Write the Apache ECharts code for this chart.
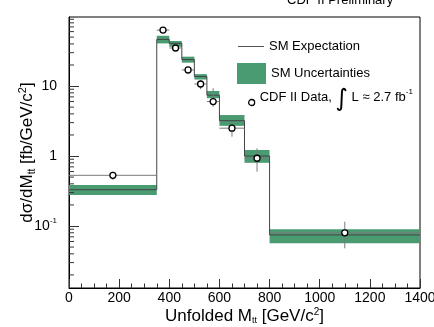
<!DOCTYPE html>
<html>
<head>
<meta charset="utf-8">
<script src="https://cdn.jsdelivr.net/npm/echarts@6/dist/echarts.min.js"></script>
<style>
  html, body { margin: 0; padding: 0; background: #fff; }
  #chart { width: 434px; height: 327px; }
</style>
</head>
<body>
<div id="chart"></div>
<script>
// Bin edges of the unfolded M_tt distribution [GeV/c^2]
const binEdges = [0, 350, 400, 450, 500, 550, 600, 700, 800, 1400];
// Standard Model expectation per bin [fb/GeV/c^2]
const smExpectation = [0.33, 46.4, 40.7, 23.9, 13.7, 7.4, 3.2, 1.0, 0.0745];
// Standard Model uncertainty band per bin
const smBandLow  = [0.277, 40.7, 36.4, 21.6, 12.4, 6.7, 2.7, 0.80, 0.0566];
const smBandHigh = [0.385, 52.3, 44.0, 26.3, 14.8, 8.5, 3.85, 1.22, 0.0897];
// Measured points: bin centres, cross section and error range
const dataMass    = [175, 375, 425, 475, 525, 575, 650, 750, 1100];
const dataXsec    = [0.53, 63, 35, 17, 10.7, 6.0, 2.5, 0.93, 0.080];
const dataErrLow  = [0.455, 59, 33, 14.7, 9.0, 5.06, 1.89, 0.597, 0.048];
const dataErrHigh = [0.597, 67, 37, 18.9, 12.2, 9.3, 2.93, 1.29, 0.115];
// Axis ticks
const xTickStep = 200;
const yMajorLabels = { '10': '10', '1': '1', '0.1': '{b|10}{s|-1}' };
const yMinorTicks = [0.02, 0.03, 0.04, 0.05, 0.06, 0.07, 0.08, 0.09,
                     0.2, 0.3, 0.4, 0.5, 0.6, 0.7, 0.8, 0.9,
                     2, 3, 4, 5, 6, 7, 8, 9,
                     20, 30, 40, 50, 60, 70, 80, 90];

const FONT = '"Liberation Sans", Arial, Helvetica, sans-serif';
const BAND = '#4a9a72';
const yMin = 0.0130, yMax = 97;

const chart = echarts.init(document.getElementById('chart'), null, { renderer: 'canvas' });

// SM histogram as a step line through the bin edges
const smStep = binEdges.map((e, i) => [e, smExpectation[Math.min(i, smExpectation.length - 1)]]);

const option = {
  animation: false,
  backgroundColor: '#fff',
  textStyle: { fontFamily: FONT },
  title: {
    text: 'CDF II Preliminary',
    left: 287, top: -6, padding: 0,
    textStyle: { fontSize: 13, fontWeight: 'normal', color: '#000', fontFamily: FONT }
  },
  grid: {
    left: 69, right: 14, top: 17, bottom: 39,
    outerBoundsMode: 'none',
    containLabel: false,
    show: true, borderColor: '#000', borderWidth: 1, backgroundColor: 'transparent'
  },
  legend: [
    {
      data: [{ name: 'SM Expectation', icon: 'rect', itemStyle: { color: '#555' } }],
      left: 238, top: 40, padding: 0, itemWidth: 26, itemHeight: 1, itemGap: 0,
      selectedMode: false,
      textStyle: { fontSize: 13, color: '#000', fontFamily: FONT }
    },
    {
      data: [{ name: 'SM Uncertainties', icon: 'rect' }],
      left: 237, top: 63, padding: 0, itemWidth: 29, itemHeight: 21, itemGap: 0,
      selectedMode: false,
      textStyle: { fontSize: 13, color: '#000', fontFamily: FONT }
    },
    {
      data: [{ name: 'CDF II Data', icon: 'circle',
               itemStyle: { color: '#fff', borderColor: '#000', borderWidth: 1.3 } }],
      left: 248, top: 88, padding: 0, itemWidth: 6, itemHeight: 6, itemGap: 0,
      selectedMode: false,
      formatter: () => '{t|CDF II Data, }{i|∫}{t| L ≈ 2.7 fb}{s|-1}',
      textStyle: {
        fontSize: 13, color: '#000', fontFamily: FONT,
        rich: {
          t: { fontSize: 13, fontFamily: FONT, padding: [0, 0, 11, 0] },
          i: { fontSize: 24, fontFamily: '"DejaVu Sans", sans-serif', padding: [0, 0, 5, 0] },
          s: { fontSize: 8, fontFamily: FONT, padding: [0, 0, 21, 0] }
        }
      }
    }
  ],
  xAxis: {
    type: 'value', min: 0, max: 1400, interval: xTickStep,
    axisLine: { show: true, lineStyle: { color: '#000', width: 1 } },
    axisTick: { inside: true, length: 9, lineStyle: { color: '#333' } },
    minorTick: { show: true, splitNumber: 4, length: 4.5, lineStyle: { color: '#333' } },
    splitLine: { show: false },
    axisLabel: { margin: 3, fontSize: 14, color: '#000', fontFamily: FONT, formatter: v => String(v) },
    name: '{a|Unfolded M}{sub|tt}{a| [GeV/c}{sup|2}{a|]}',
    nameLocation: 'middle', nameGap: 19, nameMoveOverlap: false,
    nameTextStyle: {
      fontFamily: FONT,
      rich: {
        a: { fontSize: 17, color: '#000', fontFamily: FONT },
        sub: { fontSize: 9, color: '#000', fontFamily: FONT, padding: [9, 0, 0, 0] },
        sup: { fontSize: 10, color: '#000', fontFamily: FONT, padding: [0, 0, 9, 0] }
      }
    }
  },
  yAxis: {
    type: 'log', logBase: 10, min: yMin, max: yMax,
    axisLine: { show: true, lineStyle: { color: '#000', width: 1 } },
    axisTick: { inside: true, length: 10, lineStyle: { color: '#333' } },
    splitLine: { show: false },
    axisLabel: {
      margin: 12, fontSize: 14, color: '#000', fontFamily: FONT,
      showMinLabel: false, showMaxLabel: false,
      formatter: v => {
        const k = String(+v.toPrecision(6));
        return yMajorLabels[k] || '';
      },
      rich: {
        b: { fontSize: 14, color: '#000', fontFamily: FONT },
        s: { fontSize: 8, color: '#000', fontFamily: FONT, padding: [0, 0, 10, 0] }
      }
    },
    name: '{a|dσ/dM}{sub|tt}{a| [fb/GeV/c}{sup|2}{a|]}',
    nameLocation: 'middle', nameRotate: 90, nameGap: 31, nameMoveOverlap: false,
    nameTextStyle: {
      fontFamily: FONT,
      rich: {
        a: { fontSize: 17, color: '#000', fontFamily: FONT },
        sub: { fontSize: 10, color: '#000', fontFamily: FONT, padding: [9, 0, 0, 0] },
        sup: { fontSize: 11, color: '#000', fontFamily: FONT, padding: [0, 0, 10, 0] }
      }
    }
  },
  series: [
    {
      // Uncertainty band of the SM prediction
      name: 'SM Uncertainties',
      type: 'custom',
      itemStyle: { color: BAND },
      z: 1,
      data: smBandLow.map((lo, i) => [binEdges[i], binEdges[i + 1], lo, smBandHigh[i]]),
      encode: { x: [0, 1], y: [2, 3] },
      renderItem(params, api) {
        const p0 = api.coord([api.value(0), api.value(3)]);
        const p1 = api.coord([api.value(1), api.value(2)]);
        return {
          type: 'rect',
          shape: { x: p0[0], y: p0[1], width: p1[0] - p0[0], height: p1[1] - p0[1] },
          style: { fill: BAND }
        };
      }
    },
    {
      name: 'SM Expectation',
      type: 'line',
      step: 'end',
      symbol: 'none',
      z: 3,
      data: smStep,
      lineStyle: { color: '#444', width: 1 },
      itemStyle: { color: '#444' }
    },
    {
      // Error bars of the measured points: bin width and vertical uncertainty
      name: 'errors',
      type: 'custom',
      z: 4,
      data: dataMass.map((m, i) => [m, binEdges[i], binEdges[i + 1], dataXsec[i], dataErrLow[i], dataErrHigh[i]]),
      encode: { x: [1, 2], y: [4, 5] },
      renderItem(params, api) {
        const c = api.coord([api.value(0), api.value(3)]);
        const l = api.coord([api.value(1), api.value(3)]);
        const r = api.coord([api.value(2), api.value(3)]);
        const lo = api.coord([api.value(0), api.value(4)]);
        const hi = api.coord([api.value(0), api.value(5)]);
        const st = { stroke: '#7a7a7a', lineWidth: 1 };
        return {
          type: 'group',
          children: [
            { type: 'line', shape: { x1: l[0], y1: c[1], x2: r[0], y2: c[1] }, style: st },
            { type: 'line', shape: { x1: c[0], y1: hi[1], x2: c[0], y2: lo[1] }, style: st }
          ]
        };
      }
    },
    {
      name: 'CDF II Data',
      type: 'scatter',
      z: 5,
      symbol: 'circle',
      symbolSize: 6,
      itemStyle: { color: '#fff', borderColor: '#000', borderWidth: 1.3, opacity: 1 },
      data: dataMass.map((m, i) => [m, dataXsec[i]])
    },
    {
      // Logarithmic minor ticks on the y axis
      name: 'yMinor',
      type: 'custom',
      silent: true,
      z: 6,
      data: yMinorTicks.filter(v => v > yMin && v < yMax).map(v => [0, v]),
      encode: { x: 0, y: 1 },
      renderItem(params, api) {
        const p = api.coord([api.value(0), api.value(1)]);
        return {
          type: 'line',
          shape: { x1: p[0], y1: p[1], x2: p[0] + 5, y2: p[1] },
          style: { stroke: '#333', lineWidth: 1 }
        };
      }
    }
  ]
};

chart.setOption(option);
</script>
</body>
</html>
